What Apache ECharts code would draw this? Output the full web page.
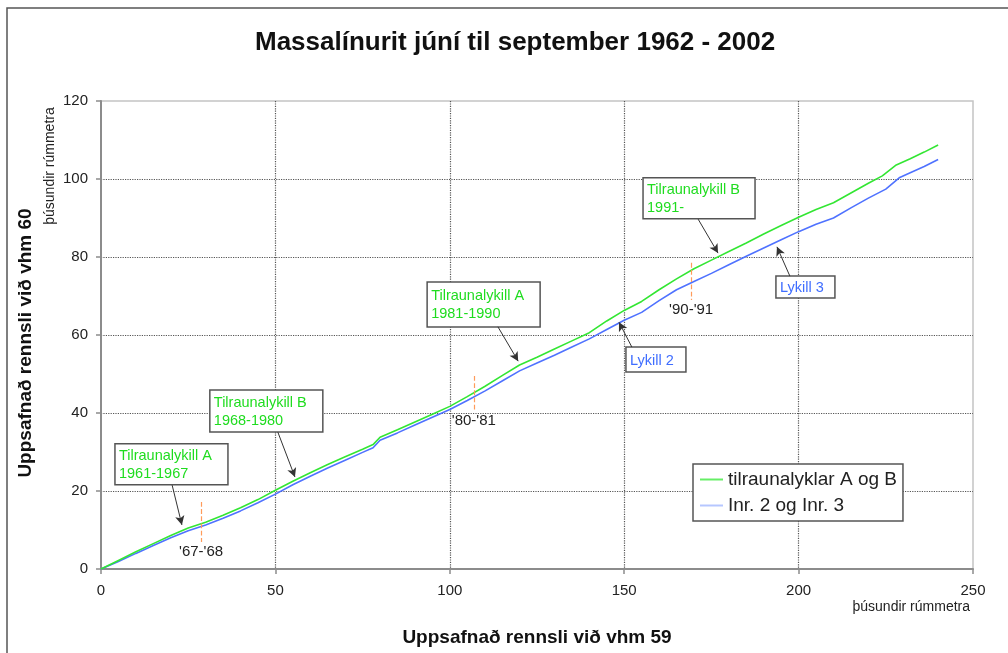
<!DOCTYPE html>
<html>
<head>
<meta charset="utf-8">
<script src="https://cdn.jsdelivr.net/npm/echarts@6/dist/echarts.min.js"></script>
<style>
  html, body { margin: 0; padding: 0; background: #fff; }
  #main { width: 1008px; height: 653px; }
</style>
</head>
<body>
<div id="main"></div>
<script>
const FONT = "'Liberation Sans', Arial, sans-serif";

// cumulative flow, [vhm 59, vhm 60], thousand m3
const keyABData = [
  [0, 0], [5, 2.2], [10, 4.4], [15, 6.5], [20, 8.6], [25, 10.5], [30, 12.0], [35, 13.8],
  [40, 15.7], [45, 17.8], [50, 20.2], [55, 22.5], [60, 24.7], [65, 26.8], [70, 28.8],
  [75, 30.7], [78, 31.9], [80, 33.8], [85, 35.7], [90, 37.7], [95, 39.7], [100, 41.7],
  [105, 44.2], [110, 46.8], [115, 49.6], [120, 52.3], [125, 54.3], [130, 56.4], [135, 58.5],
  [140, 60.6], [145, 63.6], [150, 66.3], [155, 68.6], [160, 71.6], [165, 74.4], [170, 77.0],
  [175, 79.2], [180, 81.4], [185, 83.6], [190, 85.9], [195, 88.1], [200, 90.2], [205, 92.2],
  [210, 93.9], [215, 96.4], [220, 98.9], [224, 100.8], [228, 103.6], [232, 105.2],
  [236, 106.9], [240, 108.7]
];

const inr23Data = [
  [0, 0], [5, 1.9], [10, 4.0], [15, 6.0], [20, 8.0], [25, 9.8], [30, 11.3], [35, 13.0],
  [40, 14.9], [45, 17.0], [50, 19.2], [55, 21.6], [60, 23.8], [65, 25.9], [70, 27.9],
  [75, 29.9], [78, 31.1], [80, 33.0], [85, 34.9], [90, 36.9], [95, 38.9], [100, 40.9],
  [105, 43.2], [110, 45.6], [115, 48.2], [120, 50.8], [125, 52.8], [130, 54.8], [135, 56.9],
  [140, 59.0], [145, 61.4], [150, 63.8], [155, 65.8], [160, 68.8], [165, 71.6], [170, 73.7],
  [175, 75.8], [180, 78.0], [185, 80.2], [190, 82.3], [195, 84.4], [200, 86.5], [205, 88.4],
  [210, 90.0], [215, 92.6], [220, 95.1], [225, 97.4], [229, 100.4], [232, 101.6],
  [236, 103.2], [240, 105.0]
];

const seriesNames = ["tilraunalyklar A og B", "Inr. 2 og Inr. 3"];

// year breaks: label, x, y from, y to
const breakLabels = ["'67-'68", "'80-'81", "'90-'91"];
const breakX = [28.7, 106.9, 169.2];
const breakTop = [17.2, 49.5, 78.5];
const breakBottom = [6.9, 40.3, 69.0];

// note boxes (anchor = top-left corner in data units), arrow from -> to in data units
const notes = [
  { text: "Tilraunalykill A\n1961-1967", color: "#1fdc1f", at: [4.0, 32.1], w: 113, h: 41, from: [20.4, 21.5], to: [23.2, 11.3] },
  { text: "Tilraunalykill B\n1968-1980", color: "#1fdc1f", at: [31.2, 45.9], w: 113, h: 42, from: [50.7, 35.1], to: [55.6, 23.6] },
  { text: "Tilraunalykill A\n1981-1990", color: "#1fdc1f", at: [93.5, 73.6], w: 113, h: 45, from: [113.8, 62.1], to: [119.6, 53.3] },
  { text: "Tilraunalykill B\n1991-", color: "#1fdc1f", at: [155.4, 100.3], w: 112, h: 41, from: [171.2, 89.7], to: [176.9, 81.0] },
  { text: "Lykill 3", color: "#3f6dff", at: [193.5, 75.1], w: 59, h: 22, from: [197.5, 75.1], to: [193.8, 82.6] },
  { text: "Lykill 2", color: "#3f6dff", at: [150.5, 56.9], w: 60, h: 25, from: [152.2, 56.9], to: [148.5, 63.3] }
];

const chart = echarts.init(document.getElementById("main"));

const option = {
  animation: false,
  backgroundColor: "#fff",
  textStyle: { fontFamily: FONT },
  title: {
    text: "Massalínurit júní til september 1962 - 2002",
    left: 255,
    top: 30,
    padding: 0,
    textStyle: { fontFamily: FONT, fontSize: 26, fontWeight: "bold", color: "#111" }
  },
  grid: {
    left: 101, right: 35, top: 101, bottom: 84,
    show: true, borderColor: "#c4c4c4", borderWidth: 1.5
  },
  legend: {
    left: 693, top: 464,
    orient: "vertical",
    backgroundColor: "#fff",
    borderColor: "#555", borderWidth: 1.5,
    padding: [6, 6, 6, 7],
    itemGap: 7, itemWidth: 23, itemHeight: 2,
    icon: "rect",
    textStyle: { fontFamily: FONT, fontSize: 19, color: "#222", padding: [0, 0, 0, 0] },
    data: [
      { name: seriesNames[0], itemStyle: { color: "#66ee66" } },
      { name: seriesNames[1], itemStyle: { color: "#b6c7ff" } }
    ]
  },
  xAxis: {
    type: "value", min: 0, max: 250, interval: 50,
    axisLine: { show: true, onZero: false, lineStyle: { color: "#8c8c8c", width: 2 } },
    axisTick: { show: true, length: 5, lineStyle: { color: "#8c8c8c", width: 1.5 } },
    axisLabel: { margin: 14, fontSize: 15, color: "#222", fontFamily: FONT },
    splitLine: { show: true, showMinLine: false, showMaxLine: false, lineStyle: { color: "#555", type: "dotted", width: 1.2 } }
  },
  yAxis: {
    type: "value", min: 0, max: 120, interval: 20,
    axisLine: { show: true, onZero: false, lineStyle: { color: "#8c8c8c", width: 2 } },
    axisTick: { show: true, length: 5, lineStyle: { color: "#8c8c8c", width: 1.5 } },
    axisLabel: { margin: 13, fontSize: 15, color: "#222", fontFamily: FONT },
    splitLine: { show: true, showMinLine: false, showMaxLine: false, lineStyle: { color: "#555", type: "dotted", width: 1.2 } }
  },
  series: [
    {
      name: seriesNames[1],
      type: "line",
      data: inr23Data,
      showSymbol: false,
      lineStyle: { color: "#4f72ff", width: 1.6 },
      itemStyle: { color: "#4f72ff" },
      z: 2
    },
    {
      name: seriesNames[0],
      type: "line",
      data: keyABData,
      showSymbol: false,
      lineStyle: { color: "#33e633", width: 1.6 },
      itemStyle: { color: "#33e633" },
      z: 3
    },
    {
      name: "breaks",
      type: "line",
      data: [],
      markLine: {
        silent: true,
        symbol: ["none", "none"],
        lineStyle: { color: "#ff9b5a", type: "dashed", width: 1.2 },
        label: {
          show: true, position: "end", distance: 2,
          formatter: (p) => p.name,
          color: "#222", fontSize: 15, fontFamily: FONT
        },
        data: breakLabels.map((name, i) => [
          { name: name, coord: [breakX[i], breakTop[i]] },
          { coord: [breakX[i], breakBottom[i]] }
        ])
      }
    },
    {
      name: "arrows",
      type: "line",
      data: [],
      markLine: {
        silent: true,
        symbol: ["none", "arrow"],
        symbolSize: [7, 9],
        lineStyle: { color: "#333", type: "solid", width: 1 },
        label: { show: false },
        data: notes.map((n) => [{ coord: n.from }, { coord: n.to }])
      }
    }
  ]
};

chart.setOption(option);

// text boxes and free text placed after the grid is known
const graphics = [
  {
    type: "rect", z: 0, silent: true,
    shape: { x: 7, y: 8, width: 1010, height: 660 },
    style: { fill: "none", stroke: "#555", lineWidth: 1.5 }
  },
  {
    type: "text", z: 100, x: 26, y: 343, rotation: Math.PI / 2,
    style: { text: "Uppsafnað rennsli við vhm 60", font: "bold 19px " + FONT, fill: "#111", align: "center", verticalAlign: "middle" }
  },
  {
    type: "text", z: 100, x: 50, y: 166, rotation: Math.PI / 2,
    style: { text: "þúsundir rúmmetra", font: "14px " + FONT, fill: "#222", align: "center", verticalAlign: "middle" }
  },
  {
    type: "text", z: 100, x: 537, y: 638,
    style: { text: "Uppsafnað rennsli við vhm 59", font: "bold 19px " + FONT, fill: "#111", align: "center", verticalAlign: "middle" }
  },
  {
    type: "text", z: 100, x: 970, y: 607,
    style: { text: "þúsundir rúmmetra", font: "14px " + FONT, fill: "#222", align: "right", verticalAlign: "middle" }
  }
];

notes.forEach((n) => {
  const p = chart.convertToPixel({ gridIndex: 0 }, n.at);
  graphics.push({
    type: "group", x: p[0], y: p[1], z: 100,
    children: [
      { type: "rect", shape: { x: 0, y: 0, width: n.w, height: n.h }, style: { fill: "#fff", stroke: "#555", lineWidth: 1.5 } },
      {
        type: "text", x: 4, y: n.h / 2 + 1,
        style: { text: n.text, font: "14.5px " + FONT, fill: n.color, align: "left", verticalAlign: "middle", lineHeight: 18 }
      }
    ]
  });
});

chart.setOption({ graphic: graphics });
</script>
</body>
</html>
